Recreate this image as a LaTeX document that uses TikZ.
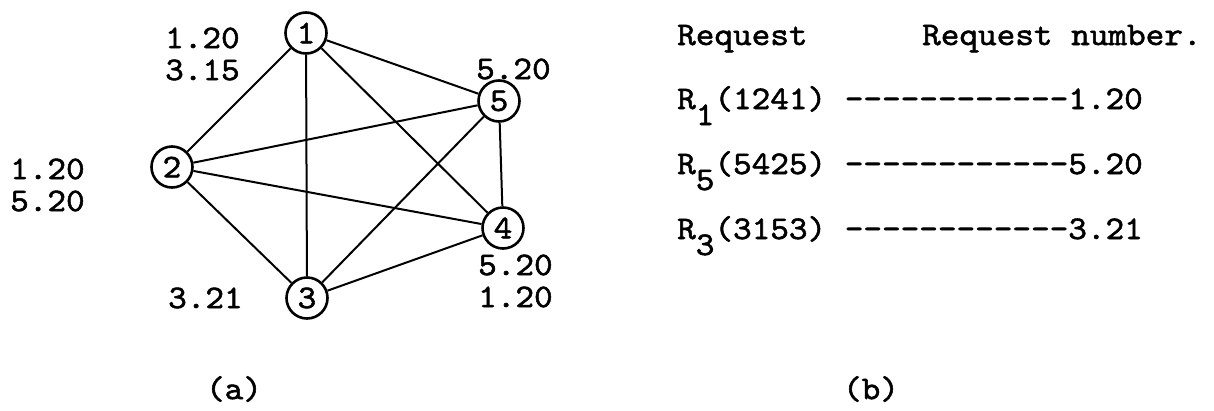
\documentclass[tikz,border=0pt]{standalone}
\usepackage{fontspec}
% a widened, slightly heavier typewriter face
\setmonofont{lmmono10-regular.otf}[FakeStretch=1.075, FakeBold=1.6]
\begin{document}
\begin{tikzpicture}[x=1pt,y=-1pt,
  every node/.style={font=\ttfamily\fontsize{33}{32}\selectfont, inner sep=0pt},
  vertex/.style={draw, circle, line width=2.6pt, minimum size=41pt},
  edge/.style={line width=2pt},
  weights/.style={anchor=west, align=left},
  row/.style={anchor=base west}]
\useasboundingbox (0,0) rectangle (1214,410);

% (a) the five sites, all joined to each other
\node[vertex] (n1) at (306,33)  {1};
\node[vertex] (n2) at (172,167) {2};
\node[vertex] (n5) at (499,101) {5};
\node[vertex] (n4) at (503,228) {4};
\node[vertex] (n3) at (307,298) {3};

\foreach \a/\b in {n1/n2, n1/n3, n1/n4, n1/n5, n2/n5, n2/n4, n2/n3, n3/n5, n3/n4, n5/n4}
  \draw[edge] (\a) -- (\b);

% request numbers held at each site
\node[weights] (w1) at (165,54)  {1.20\\3.15};
\node[weights] (w2) at (10,185)  {1.20\\5.20};
\node[weights] (w5) at (476,69)  {5.20};
\node[weights] (w4) at (478,281) {5.20\\1.20};
\node[weights] (w3) at (168,298) {3.21};

\node (capa) at (234,389) {(a)};

% (b) requests and their request numbers
\node[row] (h1) at (677,45) {Request};
\node[row] (h2) at (922,45) {Request number.};
\node[row] (r1) at (677,109) {R\raisebox{-16pt}{1}(1241) ------------1.20};
\node[row] (r5) at (677,174) {R\raisebox{-16pt}{5}(5425) ------------5.20};
\node[row] (r3) at (677,239) {R\raisebox{-16pt}{3}(3153) ------------3.21};

\node (capb) at (871,389) {(b)};
\end{tikzpicture}
\end{document}
